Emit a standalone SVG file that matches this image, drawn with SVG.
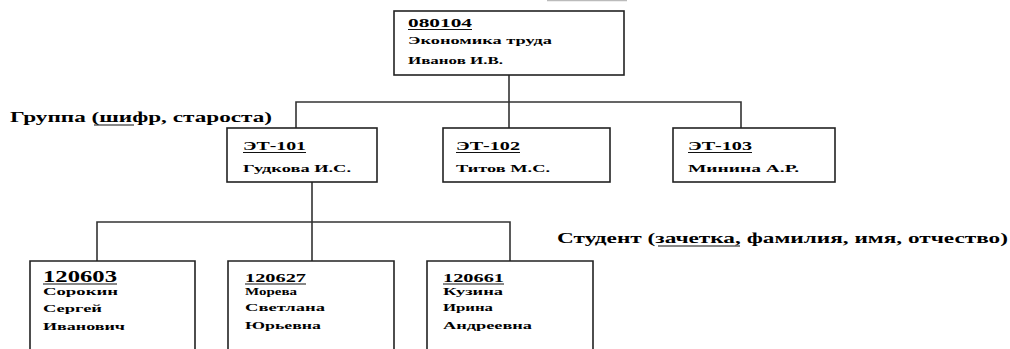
<svg xmlns="http://www.w3.org/2000/svg" width="1010" height="349" viewBox="0 0 1010 349">
<style>
.box{fill:#fff;stroke:#222;stroke-width:1.6}
.ln{stroke:#333;stroke-width:1.6;fill:none}
.ul{stroke:#111;stroke-width:1.2}
text{font-family:"Liberation Serif","Times New Roman",serif;font-weight:bold;fill:#000}
.h{font-size:13px}
.hs{font-size:13px}
.hb{font-size:17px}
.n{font-size:10.5px}
.lbl{font-size:15px}
</style>
<rect width="1010" height="349" fill="#fff"/>
<line x1="547" y1="0.5" x2="627" y2="0.5" stroke="#bbb" stroke-width="1.5"/>
<g id="connectors">
<path class="ln" d="M509 75 V102 M296 128 V102 H741 V128 M509 102 V128"/>
<path class="ln" d="M312 182 V261 M97 261 V222 H510 V261"/>
</g>
<g id="node-080104">
<rect class="box" x="394" y="11" width="230" height="64"/>
<text class="h" x="408" y="27" textLength="64" lengthAdjust="spacingAndGlyphs">080104</text>
<line class="ul" x1="408" y1="29.5" x2="472" y2="29.5"/>
<text class="n" x="408" y="44" textLength="144" lengthAdjust="spacingAndGlyphs">Экономика труда</text>
<text class="n" x="408" y="64" textLength="95" lengthAdjust="spacingAndGlyphs">Иванов И.В.</text>
</g>
<g id="label-group">
<text class="lbl" x="10" y="122" textLength="262" lengthAdjust="spacingAndGlyphs">Группа (шифр, староста)</text>
<line class="ul" x1="94" y1="125" x2="134" y2="125"/>
</g>
<g id="node-ET101">
<rect class="box" x="227" y="128" width="150" height="54"/>
<text class="hs" x="243" y="150" textLength="63" lengthAdjust="spacingAndGlyphs">ЭТ-101</text>
<line class="ul" x1="243" y1="152.5" x2="306" y2="152.5"/>
<text class="n" x="243" y="172" textLength="108" lengthAdjust="spacingAndGlyphs">Гудкова И.С.</text>
</g>
<g id="node-ET102">
<rect class="box" x="443" y="128" width="167" height="54"/>
<text class="hs" x="456" y="150" textLength="64" lengthAdjust="spacingAndGlyphs">ЭТ-102</text>
<line class="ul" x1="456" y1="152.5" x2="520" y2="152.5"/>
<text class="n" x="456" y="172" textLength="94" lengthAdjust="spacingAndGlyphs">Титов М.С.</text>
</g>
<g id="node-ET103">
<rect class="box" x="673" y="128" width="162" height="54"/>
<text class="hs" x="688" y="150" textLength="64" lengthAdjust="spacingAndGlyphs">ЭТ-103</text>
<line class="ul" x1="688" y1="152.5" x2="752" y2="152.5"/>
<text class="n" x="688" y="172" textLength="111" lengthAdjust="spacingAndGlyphs">Минина А.Р.</text>
</g>
<g id="label-student">
<text class="lbl" x="557" y="243" textLength="451" lengthAdjust="spacingAndGlyphs">Студент (зачетка, фамилия, имя, отчество)</text>
<line class="ul" x1="658" y1="246" x2="740" y2="246"/>
</g>
<g id="node-120603">
<path class="box" d="M30 352 V261 H195 V352"/>
<text class="hb" x="43" y="282" textLength="74" lengthAdjust="spacingAndGlyphs">120603</text>
<line class="ul" x1="43" y1="284" x2="117" y2="284" stroke-width="1.6"/>
<text class="n" x="43" y="295" textLength="75" lengthAdjust="spacingAndGlyphs">Сорокин</text>
<text class="n" x="43" y="312" textLength="59" lengthAdjust="spacingAndGlyphs">Сергей</text>
<text class="n" x="43" y="330" textLength="82" lengthAdjust="spacingAndGlyphs">Иванович</text>
</g>
<g id="node-120627">
<path class="box" d="M228 352 V261 H394 V352"/>
<text class="h" x="245" y="282" textLength="61" lengthAdjust="spacingAndGlyphs">120627</text>
<line class="ul" x1="245" y1="284" x2="306" y2="284"/>
<text class="n" x="245" y="295" textLength="52" lengthAdjust="spacingAndGlyphs">Морева</text>
<text class="n" x="245" y="311" textLength="80" lengthAdjust="spacingAndGlyphs">Светлана</text>
<text class="n" x="245" y="329" textLength="76" lengthAdjust="spacingAndGlyphs">Юрьевна</text>
</g>
<g id="node-120661">
<path class="box" d="M427 352 V261 H593 V352"/>
<text class="h" x="443" y="282" textLength="61" lengthAdjust="spacingAndGlyphs">120661</text>
<line class="ul" x1="443" y1="284" x2="504" y2="284"/>
<text class="n" x="443" y="295" textLength="60" lengthAdjust="spacingAndGlyphs">Кузина</text>
<text class="n" x="443" y="311" textLength="50" lengthAdjust="spacingAndGlyphs">Ирина</text>
<text class="n" x="443" y="329" textLength="89" lengthAdjust="spacingAndGlyphs">Андреевна</text>
</g>
</svg>
